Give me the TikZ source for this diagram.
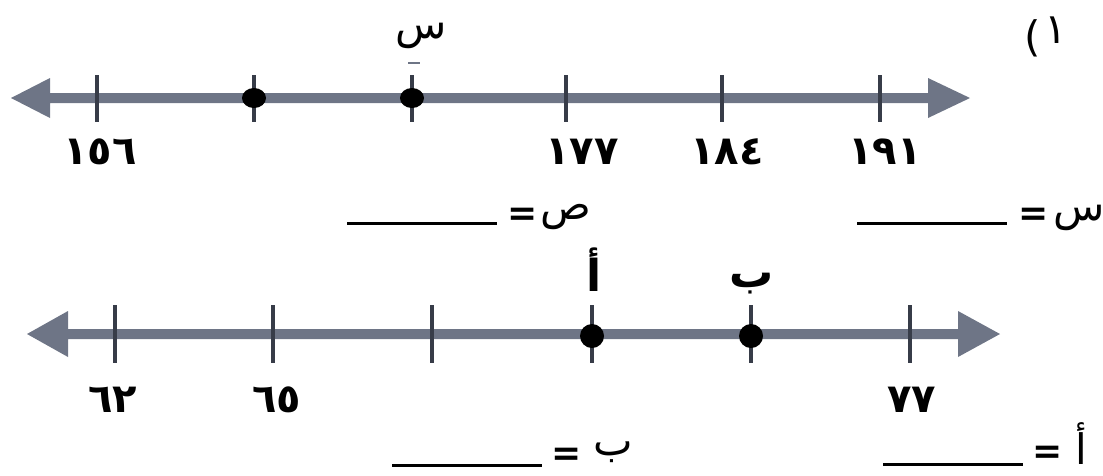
\documentclass[tikz,border=0pt]{standalone}
\usepackage{fontspec}
\newfontfamily\arabicfont[Script=Arabic]{DejaVu Sans}
\newfontfamily\plainsans{DejaVu Sans}
\definecolor{shaft}{RGB}{110,117,134}
\definecolor{tickc}{RGB}{55,60,72}
\tikzset{
  digits/.style={font=\arabicfont\bfseries\fontsize{40}{44}\selectfont, inner sep=0pt},
  letter/.style={font=\arabicfont\fontsize{42}{46}\selectfont, inner sep=0pt},
  bletter/.style={font=\arabicfont\bfseries\fontsize{44}{48}\selectfont, inner sep=0pt},
  eqsign/.style={font=\plainsans\bfseries\fontsize{36}{40}\selectfont, inner sep=0pt},
  tickmark/.style={draw=tickc, line width=4pt},
  blank/.style={draw=black, line width=3pt},
  dotmark/.style={fill=black}
}
\begin{document}
\begin{tikzpicture}[x=1pt,y=-1pt]
\useasboundingbox (0,0) rectangle (1103,475);
% top number line
\fill[shaft] (11,98) -- (50,78) -- (50,93) -- (928,93) -- (928,78) -- (970,98) -- (928,118) -- (928,103) -- (50,103) -- (50,118) -- cycle;
\foreach \x in {97,254,412,566,722,880} \draw[tickmark] (\x,75) -- (\x,122);
\fill[dotmark] (254,98) ellipse (12 and 10);
\fill[dotmark] (412,98) ellipse (12 and 10);
\draw[shaft, line width=1.5pt] (408,63) -- (420,63);
\node[letter] (s1) at (421,36) {س};
\node[letter, font=\plainsans\fontsize{42}{46}\selectfont] (q1p) at (1033,38) {(};
\node[letter, font=\arabicfont\fontsize{42}{46}\selectfont] (q1) at (1056,30) {١};
\node[digits] (n156) at (100,152) {١٥٦};
\node[digits] (n177) at (582,152) {١٧٧};
\node[digits] (n184) at (727,152) {١٨٤};
\node[digits] (n191) at (885,152) {١٩١};
% first answer row
\node[letter] (sx) at (1079,218) {س};
\node[eqsign] (e1) at (1034,217) {=};
\coordinate (u1a) at (857,223); \coordinate (u1b) at (1007,223);
\draw[blank] (u1a) -- (u1b);
\node[letter] (sy) at (566,217) {ص};
\node[eqsign] (e2) at (523,217) {=};
\coordinate (u2a) at (347,223); \coordinate (u2b) at (497,223);
\draw[blank] (u2a) -- (u2b);
% bottom number line
\fill[shaft] (27,334) -- (68,311) -- (68,329) -- (958,329) -- (958,311) -- (1000,334) -- (958,357) -- (958,339) -- (68,339) -- (68,357) -- cycle;
\foreach \x in {115,273,432,592,751,910} \draw[tickmark] (\x,305) -- (\x,363);
\fill[dotmark] (592,336) circle (12);
\fill[dotmark] (751,336) circle (12);
\node[bletter] (la) at (594,270) {أ};
\node[bletter] (lb) at (752,284) {ب};
\node[digits] (n62) at (113,400) {٦٢};
\node[digits] (n65) at (277,400) {٦٥};
\node[digits] (n77) at (912,400) {٧٧};
% second answer row
\node[letter] (ax) at (1081,444) {أ};
\node[eqsign] (e3) at (1048,455) {=};
\coordinate (u3a) at (883,464); \coordinate (u3b) at (1023,464);
\draw[blank] (u3a) -- (u3b);
\node[letter] (bx) at (613,452) {ب};
\node[eqsign] (e4) at (567,457) {=};
\coordinate (u4a) at (392,465); \coordinate (u4b) at (542,465);
\draw[blank] (u4a) -- (u4b);
\end{tikzpicture}
\end{document}
